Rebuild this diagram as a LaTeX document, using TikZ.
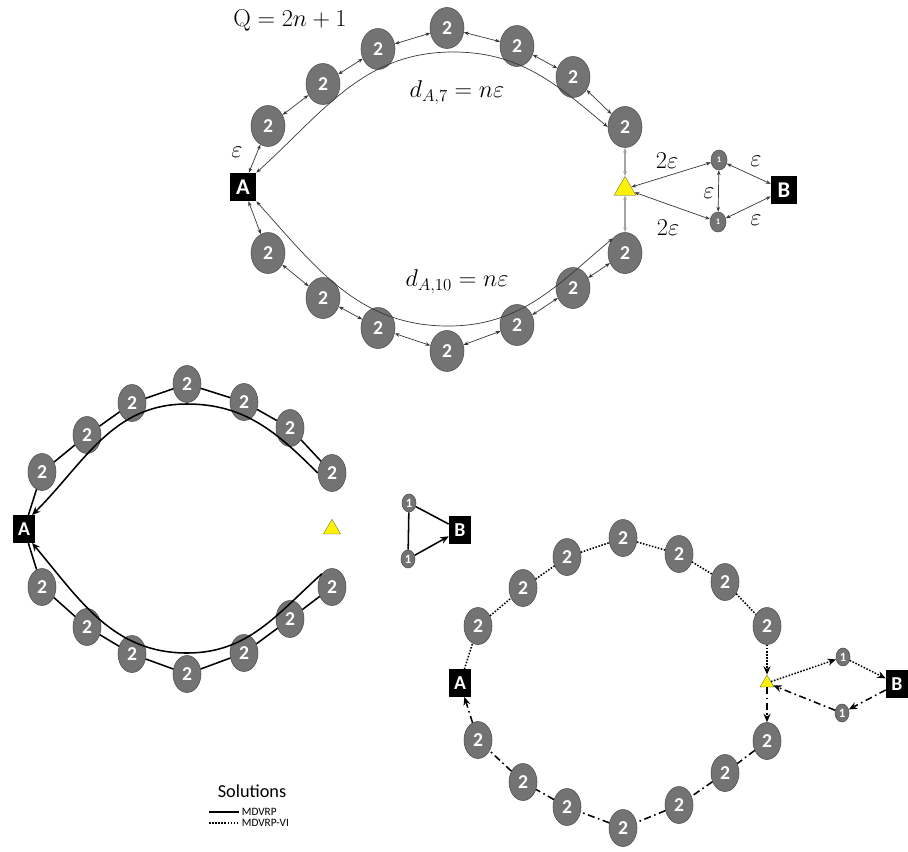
\documentclass[tikz,border=0pt]{standalone}
\usepackage[no-math]{fontspec}
\setmainfont{Carlito}
\usetikzlibrary{shapes.geometric,arrows.meta}

\definecolor{custgray}{RGB}{115,115,115}
\definecolor{custedge}{RGB}{80,80,80}
\definecolor{linkgray}{RGB}{55,55,55}
\definecolor{hubline}{RGB}{165,165,165}

\tikzset{
  cust/.style={ellipse, fill=custgray, draw=custedge, inner sep=0pt,
    minimum width=8.5mm, minimum height=10.25mm, text=white,
    font=\fontsize{14}{14}\selectfont\bfseries},
  custsm/.style={cust, minimum width=7mm, minimum height=9.25mm},
  single/.style={cust, minimum width=4mm, minimum height=5mm,
    font=\fontsize{6}{6}\selectfont\bfseries},
  singlesm/.style={single, minimum width=3.5mm, minimum height=4.5mm,
    font=\fontsize{9}{9}\selectfont\bfseries},
  depot/.style={fill=black, text=white, inner sep=0pt, minimum width=6.5mm,
    minimum height=7mm, font=\fontsize{16}{16}\selectfont\bfseries},
  depotsm/.style={depot, minimum width=5.5mm, minimum height=6.8mm,
    font=\fontsize{14}{14}\selectfont\bfseries},
  hub/.style={regular polygon, regular polygon sides=3, fill=yellow,
    draw=custedge, very thin, inner sep=0pt, minimum size=6.3mm},
  link/.style={{Stealth[length=3.5pt,width=2.6pt]}-{Stealth[length=3.5pt,width=2.6pt]},
    linkgray, line width=0.5pt},
  lbl/.style={font=\fontsize{18}{20}\selectfont},
  route/.style={black, line width=1.1pt},
  viroute/.style={black, line width=1.1pt, dash pattern=on 1.1pt off 1.1pt},
  dashdot/.style={black, line width=1.1pt, dash pattern=on 5pt off 2.5pt on 1.2pt off 2.5pt},
  tip/.style={-{Stealth[length=6pt,width=5pt]}},
}

\begin{document}
\begin{tikzpicture}[x=0.25mm, y=-0.25mm]
    \useasboundingbox (0,0) rectangle (908,851);

    % === Instance: distances and demands ===
    \node[depot] (A) at (243,187) {A};
    \node[depot] (B) at (784,190) {B};
    \node[hub] (h) at (625,189) {};
    \node[single] (s1) at (719,160) {1};
    \node[single] (s2) at (718,222) {1};
    \foreach \i/\x/\y in {1/268/126, 2/323/84, 3/378/49, 4/447/28, 5/517/46, 6/573/77, 7/625/127}
        \node[cust] (t\i) at (\x,\y) {2};
    \foreach \i/\x/\y in {1/268/253, 2/323/298, 3/378/328, 4/447/351, 5/517/325, 6/573/288, 7/625/253}
        \node[cust] (b\i) at (\x,\y) {2};

    \draw[link] (A) -- (t1);
    \draw[link] (A) -- (b1);
    \foreach \i/\j in {1/2, 2/3, 3/4, 4/5, 5/6, 6/7} {
        \draw[link] (t\i) -- (t\j);
        \draw[link] (b\i) -- (b\j);
    }
    \draw[link] (A.north east) to[out=42,in=180] (453,52) to[out=0,in=140] (t7.west);
    \draw[link] (A.south east) to[out=-48,in=180] (448,326) to[out=0,in=-140] (b7.north west);
    \draw[link, hubline, line width=1.3pt] (t7) -- (h);
    \draw[link, hubline, line width=1.3pt] (h) -- (b7);
    \draw[link] (h) -- (s1);
    \draw[link] (h) -- (s2);
    \draw[link] (s1) -- (s2);
    \draw[link] (s1) -- (B);
    \draw[link] (s2) -- (B);

    \node[lbl] at (290,21) {$\mathrm{Q} = 2n + 1$};
    \node[lbl] at (457,93) {$d_{A,7} = n\varepsilon$};
    \node[lbl] at (457,282) {$d_{A,10} = n\varepsilon$};
    \node[lbl] at (237,152) {$\varepsilon$};
    \node[lbl] at (667,161) {$2\varepsilon$};
    \node[lbl] at (668,228) {$2\varepsilon$};
    \node[lbl] at (709,193) {$\varepsilon$};
    \node[lbl] at (756,161) {$\varepsilon$};
    \node[lbl] at (756,220) {$\varepsilon$};

    % === MDVRP solution ===
    \node[depotsm] (A2) at (24,529) {A};
    \node[depotsm] (B2) at (460,530) {B};
    \node[hub, minimum size=4.9mm] (h2) at (332,529) {};
    \node[singlesm] (u1) at (409,503) {1};
    \node[singlesm] (u2) at (408,559) {1};
    \foreach \i/\x/\y in {1/42/472, 2/87/435, 3/132/403, 4/187/384, 5/244/402, 6/290/428, 7/332/473}
        \node[custsm] (lt\i) at (\x,\y) {2};
    \foreach \i/\x/\y in {1/42/587, 2/87/627, 3/132/654, 4/187/674, 5/244/653, 6/290/619, 7/332/587}
        \node[custsm] (lb\i) at (\x,\y) {2};

    \draw[route] (A2) -- (lt1) -- (lt2) -- (lt3) -- (lt4) -- (lt5) -- (lt6) -- (lt7);
    \draw[route] (A2) -- (lb1) -- (lb2) -- (lb3) -- (lb4) -- (lb5) -- (lb6) -- (lb7);
    \draw[route, tip] (lt7.west) to[out=135,in=0] (187,404) to[out=180,in=45] (A2.60);
    \draw[route, tip] (lb7.north west) to[out=-138,in=0] (187,653) to[out=180,in=-50] (A2.-60);
    \draw[route] (u1) -- (B2);
    \draw[route] (u1) -- (u2);
    \draw[route, tip] (u2) -- (B2);

    % === MDVRP-VI solution ===
    \node[depotsm] (A3) at (460,683) {A};
    \node[depotsm] (B3) at (897,684) {B};
    \node[hub, minimum size=4mm] (h3) at (767,683) {};
    \node[singlesm] (v1) at (843,657) {1};
    \node[singlesm] (v2) at (842,713) {1};
    \foreach \i/\x/\y in {1/478/626, 2/523/588, 3/567/557, 4/623/538, 5/679/554, 6/725/582, 7/767/626}
        \node[custsm] (rt\i) at (\x,\y) {2};
    \foreach \i/\x/\y in {1/478/740, 2/523/782, 3/567/807, 4/623/828, 5/679/805, 6/725/773, 7/767/741}
        \node[custsm] (rb\i) at (\x,\y) {2};

    \draw[viroute] (A3) -- (rt1) -- (rt2) -- (rt3) -- (rt4) -- (rt5) -- (rt6) -- (rt7);
    \draw[viroute, tip] (rt7) -- (h3);
    \draw[viroute, tip] (h3) -- (v1);
    \draw[viroute, tip] (v1) -- (B3);
    \draw[dashdot, tip] (B3) -- (v2);
    \draw[dashdot, tip] (v2) -- (h3);
    \draw[dashdot, tip] (h3) -- (rb7);
    \draw[dashdot] (rb7) -- (rb6) -- (rb5) -- (rb4) -- (rb3) -- (rb2) -- (rb1);
    \draw[dashdot, tip] (rb1) -- (A3);

    % Legend
    \node[font=\fontsize{13}{13}\selectfont] (leg) at (252,791) {Solutions};
    \coordinate (k1) at (209,812);
    \coordinate (k2) at (209,823);
    \draw[route] (k1) -- ++(30,0) node[right, inner sep=1.5pt, font=\fontsize{8}{8}\selectfont] {MDVRP};
    \draw[viroute] (k2) -- ++(30,0) node[right, inner sep=1.5pt, font=\fontsize{8}{8}\selectfont] {MDVRP-VI};

\end{tikzpicture}
\end{document}
